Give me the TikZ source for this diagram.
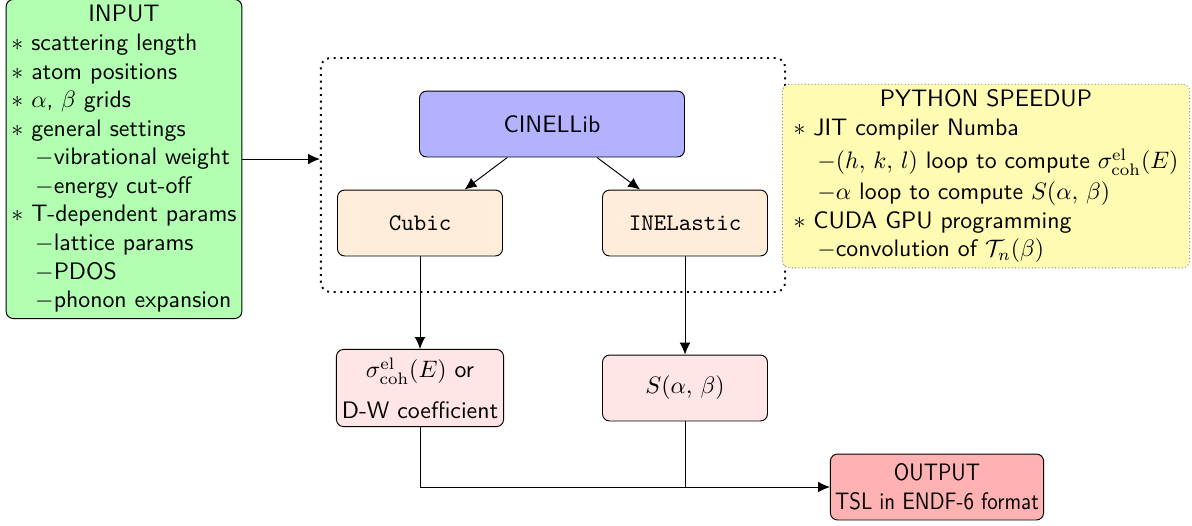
\documentclass[tikz,border=0pt]{standalone}
\usetikzlibrary{arrows.meta,positioning}

\tikzset{
    block/.style={draw, rounded corners=3pt, align=center, font=\sffamily,
        minimum height=27.7pt, inner sep=2pt},
    listblock/.style={block, align=left, inner sep=1pt},
    arrow/.style={-{Latex[length=5pt,width=4.5pt]}},
}

\begin{document}
\begin{tikzpicture}[x=0.42pt, y=-0.42pt]
    \useasboundingbox (0,0) rectangle (1192,525);

    % Dotted frame round the library
    \node[draw, thick, dotted, rounded corners=4pt, minimum width=195pt,
        minimum height=98.3pt] (core) at (553,175) {};

    % Input and speedup lists
    \node[listblock, fill=green!30, minimum width=99pt, minimum height=131pt] (input) at (124,159)
    {\begin{tabular}{@{}l@{}}
        \multicolumn{1}{@{}c@{}}{INPUT}\\
        $\ast$ scattering length\\
        $\ast$ atom positions\\
        $\ast$ $\alpha$, $\beta$ grids\\
        $\ast$ general settings\\
        \quad$-$vibrational weight\\
        \quad$-$energy cut-off\\
        $\ast$ T-dependent params\\
        \quad$-$lattice params\\
        \quad$-$PDOS\\
        \quad$-$phonon expansion
    \end{tabular}};
    \node[listblock, fill=yellow!30, draw=gray, densely dotted, minimum width=171pt,
        minimum height=76.9pt] (speed) at (986,176)
    {\begin{tabular}{@{}l@{}}
        \multicolumn{1}{@{}c@{}}{PYTHON SPEEDUP}\\
        $\ast$ JIT compiler Numba\\[2pt]
        \quad$-(h,\,k,\,l)$ loop to compute $\sigma^{\mathrm{el}}_{\mathrm{coh}}(E)$\\[1pt]
        \quad$-\alpha$ loop to compute $S(\alpha,\,\beta)$\\
        $\ast$ CUDA GPU programming\\
        \quad$-$convolution of $\mathcal{T}_n(\beta)$
    \end{tabular}};

    % Library and modules
    \node[block, fill=blue!30, minimum width=111.3pt] (cinel) at (552,124) {CINELLib};
    \node[block, fill=orange!15, minimum width=69.3pt] (cubic) at (420,223) {\texttt{Cubic}};
    \node[block, fill=orange!15, minimum width=69.3pt] (inel) at (685,223) {\texttt{INELastic}};

    % Results
    \node[block, fill=red!10, minimum width=70.2pt, minimum height=32.4pt] (xsec) at (420,388)
        {$\sigma^{\mathrm{el}}_{\mathrm{coh}}(E)$ or\\[5pt]D-W coefficient};
    \node[block, fill=red!10, minimum width=69.3pt] (sab) at (685,388) {$S(\alpha,\,\beta)$};
    \node[block, fill=red!30, minimum width=89.5pt] (output) at (937,487)
        {\scalebox{0.88}[1]{OUTPUT}\\\scalebox{0.88}[1]{TSL in ENDF-6 format}};

    % Connectors
    \draw[arrow] (input.east) -- (input.east -| core.west);
    \draw[arrow] (cinel) -- (cubic);
    \draw[arrow] (cinel) -- (inel);
    \draw[arrow] (cubic) -- (xsec);
    \draw[arrow] (inel) -- (sab);
    \draw[arrow] (xsec.south) |- (output.west);
    \draw (sab.south) -- (sab.south |- output.west);

\end{tikzpicture}
\end{document}
